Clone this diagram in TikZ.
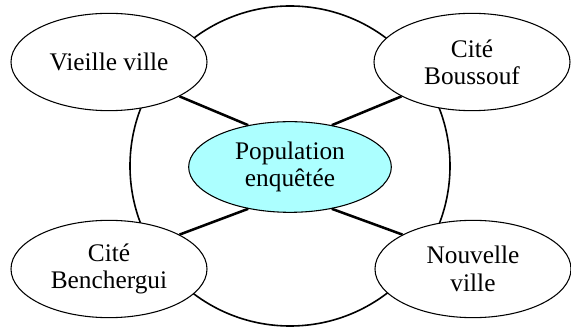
\documentclass[tikz,border=0pt]{standalone}
\usepackage{fontspec}
\setmainfont{Liberation Serif}
\usetikzlibrary{shapes.geometric}
\definecolor{popcyan}{RGB}{172,255,255}
\tikzset{
  site/.style={ellipse, draw, line width=0.8pt, fill=white, minimum width=147pt, minimum height=73pt,
    inner sep=0pt, align=center, font=\fontsize{19}{20.5}\selectfont},
  pop/.style={site, fill=popcyan, minimum width=152pt, minimum height=68pt},
  link/.style={line width=1.9pt},
  ring/.style={line width=1.2pt}
}
\begin{document}
\begin{tikzpicture}[x=0.75pt,y=-0.75pt]
\useasboundingbox (0,0) rectangle (571,327);
% outer ring
\draw[ring] (290,166) circle [radius=120pt];
% districts
\node[site] (vieille) at (109,62) {Vieille ville};
\node[site] (boussouf) at (472,62) {Cité\\Boussouf};
\node[site] (benchergui) at (109,269) {Cité\\Benchergui};
\node[site] (nouvelle) at (473,269) {Nouvelle\\ville};
% surveyed population
\node[pop] (pop) at (290,167) {Population\\enquêtée};
\draw[link] (pop.135) -- (vieille.-26);
\draw[link] (pop.45) -- (boussouf.206);
\draw[link] (pop.225) -- (benchergui.26);
\draw[link] (pop.-45) -- (nouvelle.154);
\end{tikzpicture}
\end{document}
